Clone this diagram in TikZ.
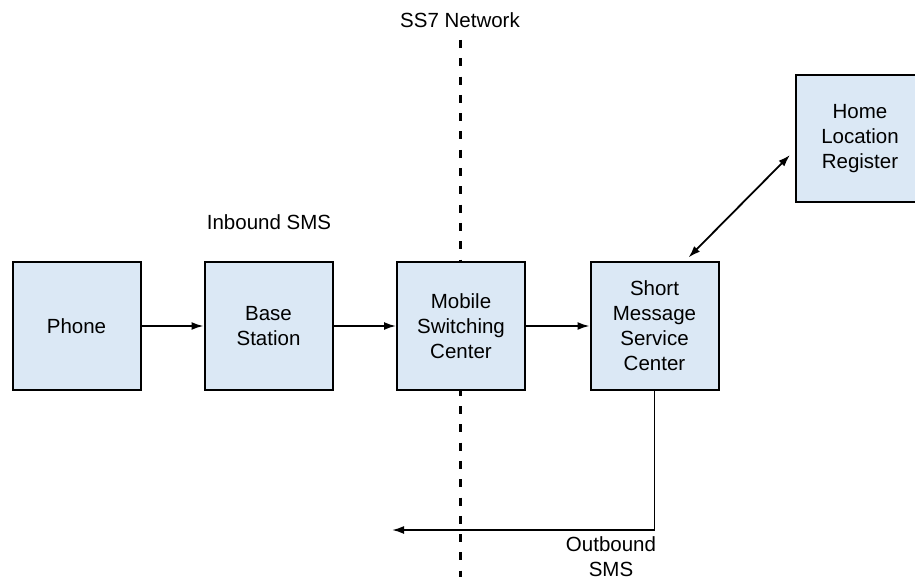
\documentclass[tikz,border=0pt]{standalone}
\usepackage{fontspec}
\setmainfont{Liberation Sans}
\usetikzlibrary{arrows.meta,calc}
\definecolor{boxfill}{RGB}{219,232,245}
\begin{document}
\begin{tikzpicture}[x=1pt,y=-1pt,
  blk/.style={draw=black,line width=2pt,fill=boxfill,minimum width=128pt,minimum height=127pt,
    align=center,font=\fontsize{20.5}{25}\selectfont,inner sep=0pt},
  lbl/.style={align=center,font=\fontsize{20.5}{25}\selectfont,inner sep=0pt},
  tip/.style={Latex[length=12pt,width=8pt]},
  conn/.style={line width=1.8pt,-{Latex[length=12pt,width=8pt]}},
  sep/.style={line width=3pt,dash pattern=on 8pt off 10.3pt}]
\clip (0,0) rectangle (915,577);
\useasboundingbox (0,0) rectangle (915,577);
\coordinate (septop) at (460,40);
\coordinate (sepbot) at (460,580);
\draw[sep] (septop) -- (sepbot);
\node[blk] (phone) at (76.5,326) {Phone};
\node[blk] (base) at (268.5,326) {Base\\Station};
\node[blk] (msc) at (461,326) {Mobile\\Switching\\Center};
\node[blk] (smsc) at (654.5,326) {Short\\Message\\Service\\Center};
\node[blk] (hlr) at (860,138.5) {Home\\Location\\Register};
\node[lbl] (ss7) at (460,20) {SS7 Network};
\node[lbl] (inb) at (269,222) {Inbound SMS};
\node[lbl] (outb) at (611,557) {Outbound\\SMS};
\coordinate (outend) at (392,530);
\draw[conn] (phone.east) -- (base.west);
\draw[conn] (base.east) -- (msc.west);
\draw[conn] (msc.east) -- (smsc.west);
\draw[line width=1.8pt,{Latex[length=12pt,width=8pt]}-{Latex[length=12pt,width=8pt]}]
  ([xshift=34pt,yshift=4pt]smsc.north) -- ([xshift=-5pt,yshift=-16.5pt]hlr.west);
\draw[conn] (smsc.south) |- (outend);
\end{tikzpicture}
\end{document}
